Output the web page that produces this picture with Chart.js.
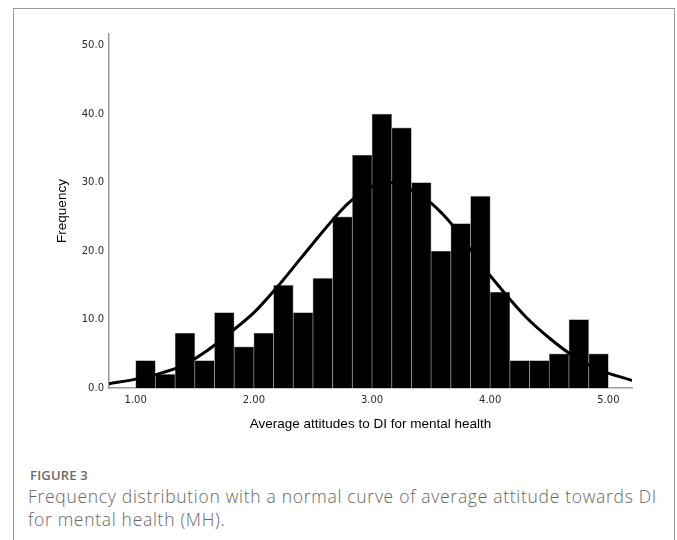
<!DOCTYPE html>
<html>
<head>
<meta charset="utf-8">
<script src="https://cdn.jsdelivr.net/npm/chart.js@4"></script>
<style>
  body { margin: 0; background: #fff; width: 677px; height: 540px; overflow: hidden; position: relative; }
  #frame { position: absolute; left: 13px; top: 8px; width: 660px; height: 560px;
           border: 1px solid #999; border-bottom: none; }
  #chartBox { position: absolute; left: 0; top: 0; width: 677px; height: 460px; }
  .figlabel { position: absolute; left: 30px; top: 466px; font: 600 13px "Open Sans", sans-serif;
              color: #6a6a6a; letter-spacing: 0.2px; }
  .caption { position: absolute; left: 28px; top: 485px; width: 640px; font: 300 17.5px/23px "Open Sans", sans-serif;
             color: #666; letter-spacing: 0.7px; }
</style>
</head>
<body>
<div id="frame"></div>
<div id="chartBox"><canvas id="histo" width="677" height="460"></canvas></div>
<div class="figlabel">FIGURE 3</div>
<div class="caption">Frequency distribution with a normal curve of average attitude towards DI for mental health (MH).</div>
<script>
// histogram bins (centre of each bin) and counts
var binCenters = [1.083, 1.25, 1.417, 1.583, 1.75, 1.917, 2.083, 2.25, 2.417, 2.583, 2.75, 2.917,
                  3.083, 3.25, 3.417, 3.583, 3.75, 3.917, 4.083, 4.25, 4.417, 4.583, 4.75, 4.917];
var counts = [4, 2, 8, 4, 11, 6, 8, 15, 11, 16, 25, 34,
              40, 38, 30, 20, 24, 28, 14, 4, 4, 5, 10, 5];

// normal curve
var curveX = [0.77, 1.0, 1.2, 1.4, 1.6, 1.8, 2.0, 2.2, 2.4, 2.6, 2.8, 3.0, 3.15,
              3.3, 3.5, 3.7, 3.9, 4.1, 4.3, 4.5, 4.7, 4.9, 5.2];
var curveY = [0.6, 1.3, 2.1, 3.3, 5.4, 8.1, 11.0, 14.8, 19.0, 23.2, 27.0, 29.4, 30.0,
              29.2, 27.0, 23.4, 18.6, 14.3, 10.4, 7.3, 4.7, 2.8, 1.1];

var xTicks = [1, 2, 3, 4, 5];
var xTickLabels = ['1.00', '2.00', '3.00', '4.00', '5.00'];
var yTicks = [0, 10, 20, 30, 40, 50];
var yTickLabels = ['0.0', '10.0', '20.0', '30.0', '40.0', '50.0'];

var barData = binCenters.map(function (x, i) { return { x: x, y: counts[i] }; });
var curveData = curveX.map(function (x, i) { return { x: x, y: curveY[i] }; });

var tickFont = { family: 'DejaVu Sans', size: 10 };
var titleFont = { family: 'Liberation Sans', size: 13.5 };

var ctx = document.getElementById('histo').getContext('2d');

var chart = new Chart(ctx, {
    type: 'bar',
    data: {
        datasets: [{
            type: 'line',
            order: 0,
            data: curveData,
            borderColor: '#000',
            borderWidth: 3,
            pointRadius: 0,
            fill: false,
            cubicInterpolationMode: 'monotone'
        },
        {
            type: 'bar',
            order: 1,
            data: barData,
            backgroundColor: '#000',
            borderColor: '#8a8a8a',
            borderWidth: 0.7,
            barPercentage: 1,
            categoryPercentage: 1
        }]
    },
    options: {
        responsive: false,
        animation: false,
        layout: { padding: { left: 50, right: 45, top: 34, bottom: 24 } },
        plugins: { legend: { display: false }, tooltip: { enabled: false } },
        scales: {
            x: {
                type: 'linear',
                offset: false,
                min: 0.774,
                max: 5.2,
                grid: { display: false, drawTicks: false },
                border: { display: true, color: '#9a9a9a', width: 1.5 },
                afterBuildTicks: function (scale) {
                    scale.ticks = xTicks.map(function (v) { return { value: v }; });
                },
                afterFit: function (scale) { scale.height = 48; },
                ticks: {
                    padding: 6,
                    maxRotation: 0,
                    color: '#2a2a2a',
                    font: tickFont,
                    callback: function (v) { return xTickLabels[xTicks.indexOf(v)]; }
                },
                title: {
                    display: true,
                    text: 'Average attitudes to DI for mental health',
                    color: '#000',
                    font: titleFont
                }
            },
            y: {
                min: 0,
                max: 51.7,
                grid: { display: false, drawTicks: false },
                border: { display: true, color: '#9a9a9a', width: 1.5 },
                afterBuildTicks: function (scale) {
                    scale.ticks = yTicks.map(function (v) { return { value: v }; });
                },
                afterFit: function (scale) { scale.width = 59; },
                ticks: {
                    padding: 5,
                    color: '#2a2a2a',
                    font: tickFont,
                    callback: function (v) { return yTickLabels[yTicks.indexOf(v)]; }
                },
                title: {
                    display: true,
                    text: 'Frequency',
                    color: '#000',
                    font: titleFont
                }
            }
        }
    }
});
</script>
</body>
</html>
